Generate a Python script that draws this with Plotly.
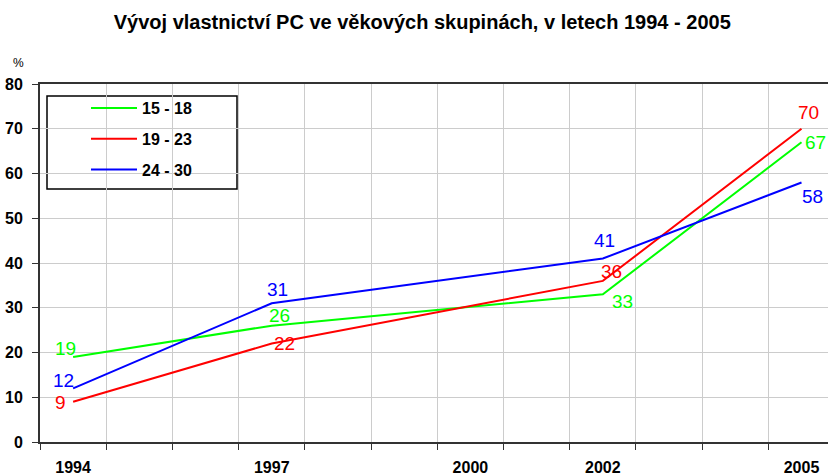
import plotly.graph_objects as go

# ---- data ----
years = [1994, 1997, 2002, 2005]
tick_years = [1994, 1997, 2000, 2002, 2005]
series_names = ["15 - 18", "19 - 23", "24 - 30"]
vals_15_18 = [19, 26, 33, 67]
vals_19_23 = [9, 22, 36, 70]
vals_24_30 = [12, 31, 41, 58]
y_ticks = [0, 10, 20, 30, 40, 50, 60, 70, 80]
title_text = "Vývoj vlastnictví PC ve věkových skupinách, v letech 1994 - 2005"

# ---- styles ----
colors = ["#00FF00", "#FF0000", "#0000FF"]
# label offsets in px (dx, dy with dy positive downward)
label_offsets = [
    [(-8, -8), (8, -10), (20, 7), (14, 0)],
    [(-13, 1), (13, 0), (9, -9), (7, -16)],
    [(-10, -8), (6, -14), (2, -18), (11, 14)],
]

FONT = "Liberation Sans, Arial, sans-serif"
W, H = 828, 476
ML, MR, MT, MB = 40, 0, 84, 34
pw, ph = W - ML - MR, H - MT - MB


def px_to_paper_x(px):
    return (px - ML) / pw


def py_to_paper_y(py):
    return (H - MB - py) / ph


fig = go.Figure()
all_vals = [vals_15_18, vals_19_23, vals_24_30]
for i, (name, vals) in enumerate(zip(series_names, all_vals)):
    fig.add_trace(go.Scatter(
        x=years, y=vals, name=name, mode="lines",
        line=dict(color=colors[i], width=2),
        legendgroup=name, cliponaxis=False,
    ))

annotations = []
for i, vals in enumerate(all_vals):
    for j, (x, v) in enumerate(zip(years, vals)):
        dx, dy = label_offsets[i][j]
        annotations.append(dict(
            x=x, y=v, xref="x", yref="y", text=str(v), showarrow=False,
            xanchor="center", yanchor="middle", xshift=dx, yshift=-dy,
            font=dict(family=FONT, size=19, color=colors[i]),
        ))

annotations.append(dict(
    x=px_to_paper_x(18), y=py_to_paper_y(63), xref="paper", yref="paper",
    text="%", showarrow=False, xanchor="center", yanchor="middle",
    font=dict(family=FONT, size=12, color="#000000"),
))

boundaries = [y + 0.5 for y in range(1993, 2005)]

fig.update_layout(
    width=W, height=H,
    margin=dict(l=ML, r=MR, t=MT, b=MB, pad=0, autoexpand=False),
    paper_bgcolor="white", plot_bgcolor="white",
    title=dict(text=title_text, x=0.51, xref="container", xanchor="center",
               y=1 - 22 / H, yref="container", yanchor="middle",
               font=dict(family=FONT, size=20, color="#000000", weight="bold")),
    xaxis=dict(
        range=[1993.5, 2005.4], tickmode="array", tickvals=tick_years,
        ticktext=[str(t) for t in tick_years], ticks="", showgrid=False,
        showline=True, linecolor="#333333", linewidth=2, mirror=True,
        tickfont=dict(family=FONT, size=16, color="#000000", weight="bold"),
        ticklabelstandoff=10, zeroline=False,
        minor=dict(tickmode="array", tickvals=boundaries, ticks="outside",
                   ticklen=6, tickcolor="#333333", tickwidth=1,
                   showgrid=True, gridcolor="#cccccc", gridwidth=1),
    ),
    yaxis=dict(
        range=[0, 80], tickmode="array", tickvals=y_ticks,
        ticks="outside", ticklen=6, tickcolor="#333333",
        showgrid=True, gridcolor="#cccccc", gridwidth=1,
        showline=True, linecolor="#333333", linewidth=2, zeroline=False,
        tickfont=dict(family=FONT, size=16, color="#000000", weight="bold"),
        ticklabelstandoff=6,
    ),
    legend=dict(
        x=px_to_paper_x(86), y=py_to_paper_y(91), xanchor="left", yanchor="top",
        bgcolor="rgba(0,0,0,0)", borderwidth=0, tracegroupgap=7,
        itemwidth=46,
        font=dict(family=FONT, size=16, color="#000000", weight="bold"),
    ),
    showlegend=True,
    annotations=annotations,
    shapes=[dict(
        type="rect", xref="paper", yref="paper",
        x0=px_to_paper_x(47), x1=px_to_paper_x(237),
        y0=py_to_paper_y(189), y1=py_to_paper_y(96),
        line=dict(color="#000000", width=1.5), fillcolor="white", layer="below",
    )],
)

fig.write_html("out.html", config={"displayModeBar": False},
               post_script="document.body.style.margin='0px';")
